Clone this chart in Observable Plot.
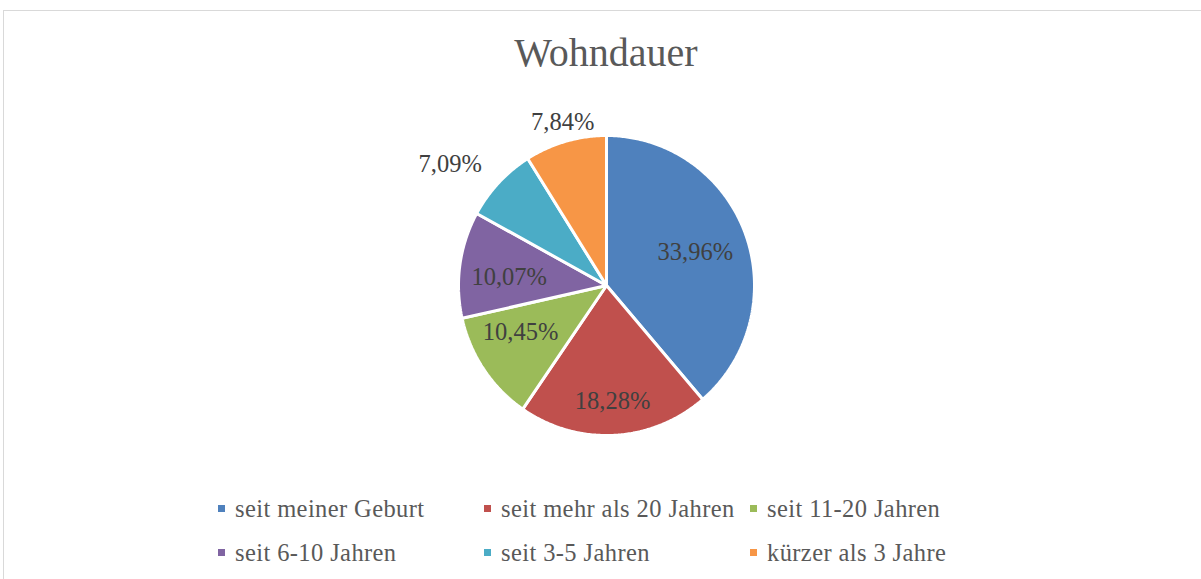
<!DOCTYPE html>
<html>
<head>
<meta charset="utf-8">
<script src="https://cdn.jsdelivr.net/npm/d3@7"></script>
<script src="https://cdn.jsdelivr.net/npm/@observablehq/plot@0.6"></script>
<style>
  html, body { margin: 0; padding: 0; background: #fff; overflow: hidden; }
  #page { position: relative; width: 1201px; height: 579px; font-family: "Liberation Serif", serif; }
  #frame { position: absolute; left: 3px; top: 10px; width: 1400px; height: 800px;
           border-top: 1px solid #d9d9d9; border-left: 1px solid #d9d9d9; }
  #title { position: absolute; left: 0; top: 33px; width: 1212px; text-align: center;
           font-size: 40px; line-height: 40px; color: #595959; }
  #chart { position: absolute; left: 0; top: 90px; }
  .leg { position: absolute; font-size: 24.5px; line-height: 24px; letter-spacing: 0.4px;
         color: #595959; white-space: nowrap; }
  .sw { position: absolute; width: 7px; height: 7px; }
</style>
</head>
<body>
<div id="page">
  <div id="frame"></div>
  <div id="title">Wohndauer</div>
  <div id="chart"></div>
  <div id="legend"></div>
</div>
<script>
// ---- data ----
const categories = ["seit meiner Geburt", "seit mehr als 20 Jahren", "seit 11-20 Jahren",
                    "seit 6-10 Jahren", "seit 3-5 Jahren", "kürzer als 3 Jahre"];
const values = [33.96, 18.28, 10.45, 10.07, 7.09, 7.84];
const colors = ["#4F81BD", "#C0504D", "#9BBB59", "#8064A2", "#4BACC6", "#F79646"];

// ---- label placement (layout config) ----
const labelRadius = [0.64, 0.77, 0.66, 0.66, 1.33, 1.13];
const labelTurnDeg = [0, 0, 5.7, -3, -5.8, 0.9];

const fmt = v => v.toFixed(2).replace(".", ",") + "%";

const arcs = d3.pie().sort(null).value(d => d.value)(
  categories.map((c, i) => ({category: c, value: values[i]}))
);

// slice outlines in unit coordinates (angle 0 at 12 o'clock, clockwise)
const slicePts = [];
arcs.forEach(a => {
  const cat = a.data.category;
  slicePts.push({category: cat, x: 0, y: 0});
  const n = Math.max(8, Math.ceil((a.endAngle - a.startAngle) / 0.01));
  for (let k = 0; k <= n; k++) {
    const t = a.startAngle + (a.endAngle - a.startAngle) * k / n;
    slicePts.push({category: cat, x: Math.sin(t), y: Math.cos(t)});
  }
});

const labelData = arcs.map((a, i) => {
  const mid = (a.startAngle + a.endAngle) / 2 + labelTurnDeg[i] * Math.PI / 180;
  return {x: Math.sin(mid) * labelRadius[i], y: Math.cos(mid) * labelRadius[i], text: fmt(a.data.value)};
});

const chart = Plot.plot({
  width: 1201,
  height: 360,
  margin: 0,
  style: {background: "transparent", overflow: "visible"},
  x: {domain: [-1, 1], range: [458, 754], axis: null},
  y: {domain: [-1, 1], range: [345, 45], axis: null},
  color: {domain: categories, range: colors},
  marks: [
    Plot.line(slicePts, {x: "x", y: "y", z: "category", fill: "category",
      stroke: "white", strokeWidth: 3, strokeLinejoin: "miter", curve: "linear-closed"}),
    Plot.text(labelData, {x: "x", y: "y", text: "text", fill: "#404040",
      fontSize: 24.5, fontFamily: "Liberation Serif"})
  ]
});
document.getElementById("chart").appendChild(chart);

// ---- legend (HTML below/around the svg) ----
const legend = document.getElementById("legend");
const colX = [218, 484, 750];
const rowTop = [497, 541];
categories.forEach((c, i) => {
  const col = i % 3, row = Math.floor(i / 3);
  const sw = document.createElement("div");
  sw.className = "sw";
  sw.style.left = colX[col] + "px";
  sw.style.top = (rowTop[row] + 8) + "px";
  sw.style.background = colors[i];
  legend.appendChild(sw);
  const t = document.createElement("div");
  t.className = "leg";
  t.style.left = (colX[col] + 17) + "px";
  t.style.top = rowTop[row] + "px";
  t.textContent = c;
  legend.appendChild(t);
});
</script>
</body>
</html>
